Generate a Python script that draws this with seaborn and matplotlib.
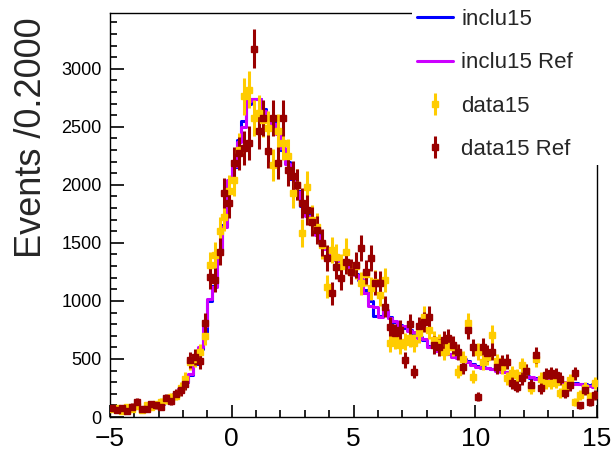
import numpy as np
import pandas as pd
import seaborn as sns
import matplotlib
matplotlib.use("Agg")
import matplotlib.pyplot as plt
from matplotlib.lines import Line2D
from matplotlib.patches import Rectangle
from matplotlib.ticker import MultipleLocator, FixedLocator

# ---------------- data (bin width 0.2, range -5 .. 15) ----------------
x_min, x_max, bin_width = -5.0, 15.0, 0.2

inclu15 = [75, 72, 70, 73, 78, 80, 84, 88, 92, 98,
           115, 135, 160, 195, 240, 300, 360, 460, 590, 730,
           1000, 1130, 1420, 1650, 2030, 2150, 2390, 2550, 2700, 2740,
           2740, 2650, 2560, 2540, 2450, 2300, 2200, 2050, 1950, 1820,
           1740, 1680, 1580, 1500, 1460, 1400, 1360, 1330, 1300, 1270,
           1230, 1180, 1090, 1000, 870, 870, 910, 860, 820, 790,
           770, 750, 720, 690, 660, 610, 600, 580, 560, 545,
           530, 520, 500, 480, 460, 440, 430, 420, 415, 405,
           400, 390, 385, 380, 360, 350, 340, 335, 330, 325,
           320, 310, 300, 295, 290, 290, 285, 280, 275, 285]

inclu15_ref = [72, 74, 70, 75, 76, 82, 84, 90, 94, 100,
               112, 138, 158, 198, 245, 305, 370, 470, 600, 780,
               1020, 1120, 1430, 1640, 2040, 2160, 2370, 2500, 2720, 2740,
               2740, 2640, 2550, 2520, 2440, 2320, 2180, 2060, 1940, 1830,
               1730, 1690, 1570, 1510, 1450, 1410, 1350, 1340, 1290, 1280,
               1220, 1190, 1070, 960, 950, 860, 920, 850, 830, 780,
               780, 740, 730, 680, 670, 600, 610, 570, 555, 540,
               520, 510, 490, 470, 450, 430, 420, 425, 410, 400,
               390, 385, 380, 370, 365, 345, 345, 330, 335, 320,
               315, 305, 300, 300, 285, 280, 280, 275, 270, 262]

data15 = [65, 80, 55, 85, 70, 95, 60, 100, 90, 110,
          130, 150, 170, 185, 250, 330, 470, 500, 560, 700,
          1310, 1397, 1600, 1727, 1950, 2043, 2302, 2761, 2819, 2575,
          2620, 2560, 2489, 2172, 2460, 2359, 2250, 1928, 2000, 1583,
          1985, 1700, 1640, 1480, 1123, 1440, 1380, 1300, 1425, 1250,
          1300, 1150, 1230, 1110, 1160, 1050, 1181, 640, 660, 620,
          650, 680, 640, 720, 865, 750, 660, 640, 560, 610,
          600, 391, 500, 808, 348, 563, 470, 520, 710, 480,
          434, 333, 380, 360, 448, 400, 247, 500, 330, 290,
          290, 300, 204, 260, 319, 132, 190, 250, 175, 290]

data15_ref = [80, 60, 75, 50, 90, 132, 70, 65, 110, 100,
              90, 160, 140, 200, 230, 280, 490, 520, 480, 808,
              1210, 1180, 1425, 1928, 1842, 2187, 2273, 2316, 2359, 3172,
              2460, 2575, 2287, 2575, 2187, 2575, 2129, 2072, 2000, 1842,
              1784, 1684, 1612, 1500, 1368, 1066, 1296, 1196, 1339, 1253,
              1310, 1454, 1250, 1368, 1152, 1152, 951, 779, 721, 750,
              491, 800, 391, 780, 820, 865, 620, 600, 664, 680,
              620, 560, 434, 750, 600, 175, 606, 549, 563, 434,
              470, 477, 290, 262, 333, 400, 276, 534, 247, 362,
              376, 362, 330, 204, 276, 376, 103, 233, 132, 190]

series_labels = ["inclu15", "inclu15 Ref", "data15", "data15 Ref"]
series_colors = ["#0000FF", "#CC00FF", "#FFCC00", "#990000"]
y_label = "Events /0.2000"

# ---------------- figure ----------------
sns.set_style("white")
plt.rcParams['font.family'] = ['Liberation Sans', 'DejaVu Sans']
plt.rcParams['axes.unicode_minus'] = True

n_bins = len(inclu15)
centers = x_min + bin_width * (np.arange(n_bins) + 0.5)

df = pd.DataFrame({"x": centers, "inclu15": inclu15, "inclu15_ref": inclu15_ref,
                   "data15": data15, "data15_ref": data15_ref})

fig = plt.figure(figsize=(6.16, 4.53), dpi=100)
ax = fig.add_axes([110 / 616, 1 - 417 / 453, (597 - 110) / 616, (417 - 13) / 453])

sns.histplot(data=df, x="x", weights="inclu15", binwidth=bin_width, binrange=(x_min, x_max),
             element="step", fill=False, color=series_colors[0], lw=2.2, ax=ax)
sns.histplot(data=df, x="x", weights="inclu15_ref", binwidth=bin_width, binrange=(x_min, x_max),
             element="step", fill=False, color=series_colors[1], lw=2.2, ax=ax)

for col, c in [("data15", series_colors[2]), ("data15_ref", series_colors[3])]:
    vals = np.asarray(df[col], dtype=float)
    ax.errorbar(df["x"], vals, yerr=3 * np.sqrt(vals), fmt="s", color=c, ms=5,
                elinewidth=2.2, capsize=0, zorder=3)

ax.set_xlim(x_min, x_max)
ax.set_ylim(0, 3480)
ax.set_xlabel("")
ax.set_ylabel("")

ax.xaxis.set_major_locator(FixedLocator([-5, 0, 5, 10, 15]))
ax.xaxis.set_minor_locator(MultipleLocator(1))
ax.yaxis.set_major_locator(MultipleLocator(500))
ax.yaxis.set_minor_locator(MultipleLocator(100))
ax.tick_params(axis="both", which="both", direction="in", top=False, right=False,
               left=True, bottom=True, colors="black", width=1.2)
ax.tick_params(axis="y", which="major", length=10, labelsize=13, pad=6)
ax.tick_params(axis="y", which="minor", length=5)
ax.tick_params(axis="x", which="major", length=9, labelsize=19, pad=7)
ax.tick_params(axis="x", which="minor", length=5)
for s in ax.spines.values():
    s.set_color("black")
    s.set_linewidth(1.0)
    s.set_visible(True)

fig.text(32 / 616, 1 - 138 / 453, y_label, rotation=90, fontsize=26,
         ha="center", va="center")

# legend box (covers top-right corner of the frame)
fig.patches.append(Rectangle((412 / 616, 1 - 165 / 453), 1 - 412 / 616, 165 / 453,
                             transform=fig.transFigure, facecolor="white",
                             edgecolor="none", zorder=3))
handles = [Line2D([], [], color=series_colors[0], lw=2.2),
           Line2D([], [], color=series_colors[1], lw=2.2),
           ax.containers[0], ax.containers[1]]
fig.legend(handles, series_labels, loc="upper left", bbox_to_anchor=(417 / 616, 0.980),
           frameon=False, fontsize=16, handlelength=1.6, handletextpad=0.4,
           labelspacing=1.0, borderpad=0, borderaxespad=0)

fig.savefig("out.png", dpi=100)
